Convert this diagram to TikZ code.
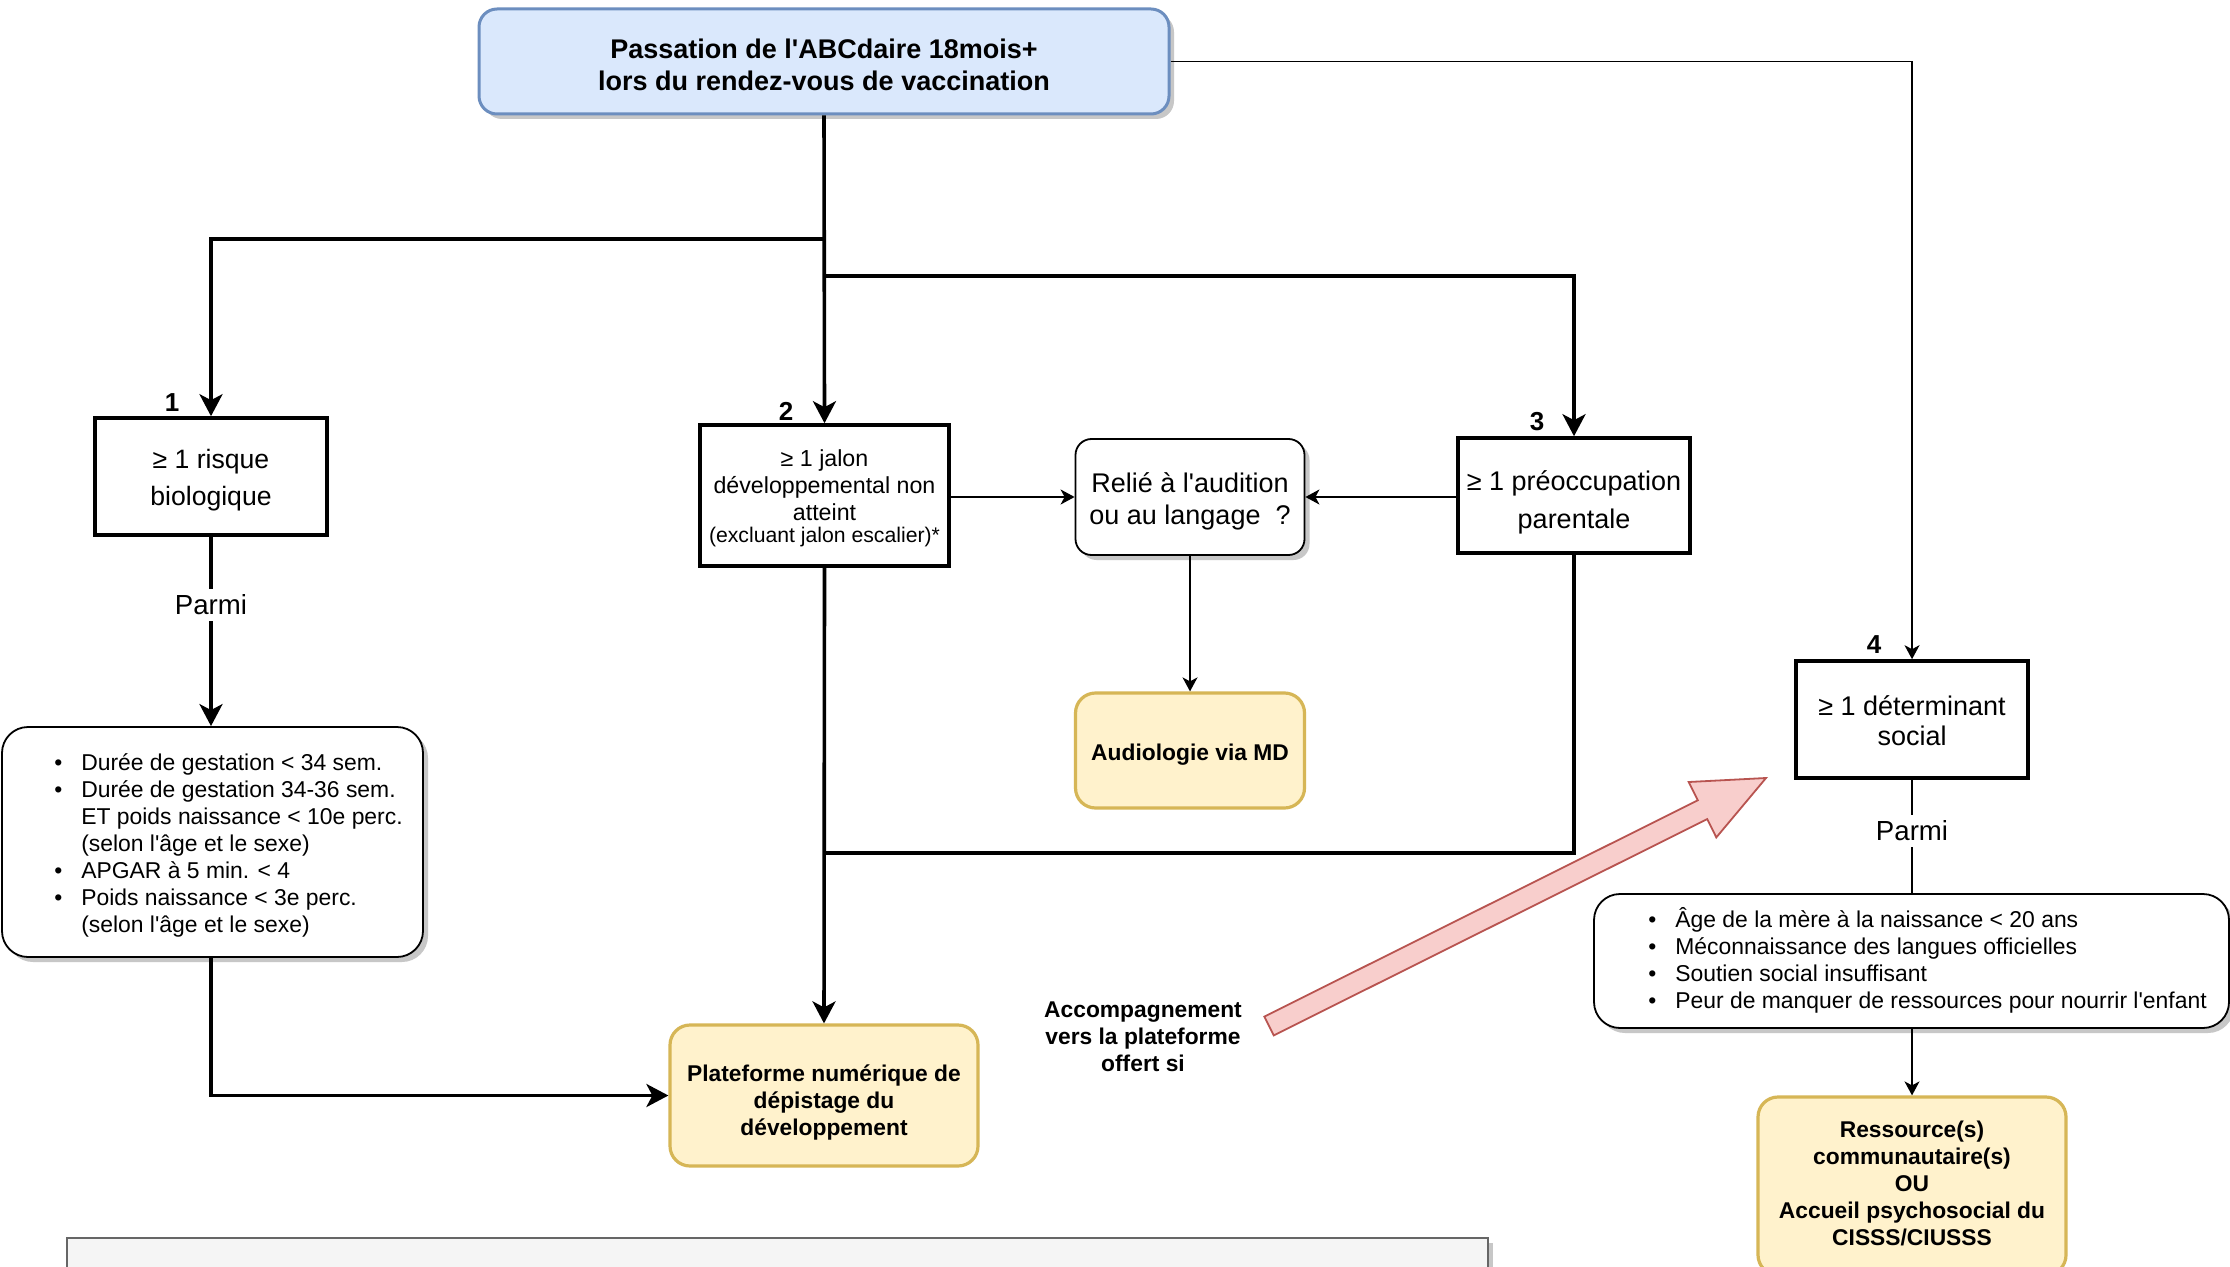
\documentclass[tikz,border=0pt]{standalone}
\usepackage{fontspec}
\setmainfont{Liberation Sans}[Ligatures=TeXOff]
\usetikzlibrary{arrows.meta,calc}
\definecolor{blueF}{HTML}{DAE8FC}
\definecolor{blueS}{HTML}{6C8EBF}
\definecolor{yelF}{HTML}{FFF2CC}
\definecolor{yelS}{HTML}{D6B656}
\definecolor{redF}{HTML}{F8CECC}
\definecolor{redS}{HTML}{B85450}
\definecolor{grayF}{HTML}{F5F5F5}
\definecolor{grayS}{HTML}{666666}
\newcommand\fsz[2]{\fontsize{#1}{#2}\selectfont}
\newcommand\toprule[1]{\rule{0pt}{#1}}
\newcommand\botrule[1]{\rule[-#1]{0pt}{0pt}}
\newcommand\lowerby[2]{\raisebox{-#1}[\height][\depth]{#2}}
\begin{document}
\begin{tikzpicture}[x=0.5pt,y=-0.5pt,
  shad/.style={preaction={fill=black!22,draw=none,transform canvas={shift={(2.5pt,-2.5pt)}}}},
  sqbox/.style={draw,line width=1.8pt,fill=white,align=center,inner sep=2pt},
  rbox/.style={draw,line width=0.9pt,rounded corners=8pt,fill=white,shad,align=center,inner sep=2pt},
  ybox/.style={draw=yelS,fill=yelF,line width=1.6pt,rounded corners=10pt,align=center,inner sep=2pt,font=\bfseries\fsz{11.4pt}{13.5pt}},
  thk/.style={line width=1.8pt},
  thn/.style={line width=0.9pt},
  tipT/.style={-{Stealth[length=11pt,width=11.5pt,inset=3pt]}},
  tipt/.style={-{Stealth[length=7pt,width=7.5pt,inset=2pt]}},
  numlab/.style={font=\bfseries\fsz{13pt}{15pt}},
  parmi/.style={fill=white,inner sep=3pt,font=\fsz{13.8pt}{16pt}}
]
\useasboundingbox (0,0) rectangle (2230,1267);
\fill[white] (0,0) rectangle (2230,1267);
\clip (0,0) rectangle (2230,1267);

% nodes
\node[draw=blueS,fill=blueF,line width=1.5pt,rounded corners=9pt,shad,align=center,
      minimum width=345pt,minimum height=52.5pt,font=\bfseries\fsz{13.5pt}{16pt}]
  (top) at (824,61.5) {\toprule{12.7pt}Passation de l'ABCdaire 18mois+\\lors du rendez-vous de vaccination};

\node[sqbox,minimum width=116pt,minimum height=58.5pt,font=\fsz{13.3pt}{18.5pt}]
  (b1) at (211,476.5) {\toprule{13.7pt}≥ 1 risque\\biologique};
\node[sqbox,minimum width=124.5pt,minimum height=70.5pt,font=\fsz{11.6pt}{13.5pt}]
  (b2) at (824.5,495.5) {\toprule{11.3pt}≥ 1 jalon\\développemental non\\atteint\\[-2.8pt]{\fsz{10.6pt}{12pt}(excluant jalon escalier)*}};
\node[rbox,minimum width=114.5pt,minimum height=58pt,font=\fsz{13.5pt}{16pt}]
  (relie) at (1190,497) {\toprule{14.3pt}Relié à l'audition\\ou au langage\ \ ?};
\node[ybox,minimum width=114.5pt,minimum height=57.5pt]
  (audio) at (1190,750.5) {\toprule{12.5pt}Audiologie via MD};
\node[sqbox,minimum width=116pt,minimum height=57.5pt,font=\fsz{13.5pt}{19pt}]
  (b3) at (1574,495.5) {\toprule{17.1pt}≥ 1 préoccupation\\parentale};
\node[sqbox,minimum width=116pt,minimum height=58.5pt,font=\fsz{13.5pt}{15pt}]
  (b4) at (1912,719.5) {\toprule{11.5pt}≥ 1 déterminant\\social};

\node[rbox,rounded corners=13pt,minimum width=210.5pt,minimum height=115pt,font=\fsz{11.45pt}{13.5pt}]
  (l1) at (212.5,842) {\hspace*{16pt}\lowerby{2.1pt}{\begin{tabular}{@{}l@{\hspace{9.5pt}}l@{}}
\textbullet & Durée de gestation < 34 sem.\\
\textbullet & Durée de gestation 34-36 sem.\\
 & ET poids naissance < 10e perc.\\
 & (selon l'âge et le sexe)\\
\textbullet & APGAR à 5 min. < 4\\
\textbullet & Poids naissance < 3e perc.\\
 & (selon l'âge et le sexe)
\end{tabular}}};

\node[rbox,rounded corners=13pt,minimum width=317.5pt,minimum height=67pt,font=\fsz{11.45pt}{13.5pt}]
  (l2) at (1911.5,961) {\hspace*{16pt}\lowerby{0.7pt}{\begin{tabular}{@{}l@{\hspace{9.5pt}}l@{}}
\textbullet & Âge de la mère à la naissance < 20 ans\\
\textbullet & Méconnaissance des langues officielles\\
\textbullet & Soutien social insuffisant\\
\textbullet & Peur de manquer de ressources pour nourrir l'enfant
\end{tabular}}};

\node[ybox,minimum width=154pt,minimum height=89pt]
  (res) at (1912,1186) {Ressource(s)\\communautaire(s)\\OU\\Accueil psychosocial du\\CISSS/CIUSSS\botrule{3pt}};
\node[ybox,minimum width=154pt,minimum height=70.5pt]
  (plat) at (824,1095.5) {\toprule{15.5pt}Plateforme numérique de\\dépistage du\\développement};

\node[draw=grayS,fill=grayF,line width=0.75pt,shad,minimum width=710.5pt,minimum height=52pt]
  (note) at (777.5,1290) {};

\node[align=center,font=\bfseries\fsz{11.4pt}{13.5pt}] (acc) at (1143,1035)
  {\toprule{9.6pt}Accompagnement\\vers la plateforme\\offert si};

% number labels
\node[numlab] (n1) at (172,403) {1};
\node[numlab] (n2) at (786,411) {2};
\node[numlab] (n3) at (1537,422) {3};
\node[numlab] (n4) at (1874,645) {4};

% connectors
\coordinate (j1) at (824,239);
\coordinate (j3) at (824,276);
\coordinate (j5) at (824,853);
\draw[thk,tipT] (top.south) -- (b2.north);
\draw[thk,tipT] (j1) -| (b1.north);
\draw[thk,tipT] (j3) -| (b3.north);
\draw[thn,tipt] (top.east) -| (b4.north);

\draw[thk,tipT] (b1.south) -- node[parmi,pos=0.36] {Parmi} (b1.south |- l1.north);
\draw[thk,tipT] (b1.south |- l1.south) |- (plat.west);
\draw[thk,tipT] (b2.south) -- (plat.north);
\draw[thk] (b3.south) |- (j5);

\draw[thn,tipt] (b2.east |- relie.west) -- (relie.west);
\draw[thn,tipt] (b3.west |- relie.east) -- (relie.east);
\draw[thn,tipt] (relie.south) -- (audio.north);

\draw[thn] (b4.south) -- node[parmi,pos=0.45] {Parmi} (b4.south |- l2.north);
\draw[thn,tipt] (res.north |- l2.south) -- (res.north);

% red block arrow
\draw[draw=redS,fill=redF,line width=0.9pt,line join=miter]
  (1264.3,1016.6) -- (1697.8,800.3) -- (1688.7,782.0) -- (1766,778)
  -- (1716.3,837.4) -- (1707.2,819.1) -- (1273.7,1035.4) -- cycle;
\end{tikzpicture}
\end{document}
